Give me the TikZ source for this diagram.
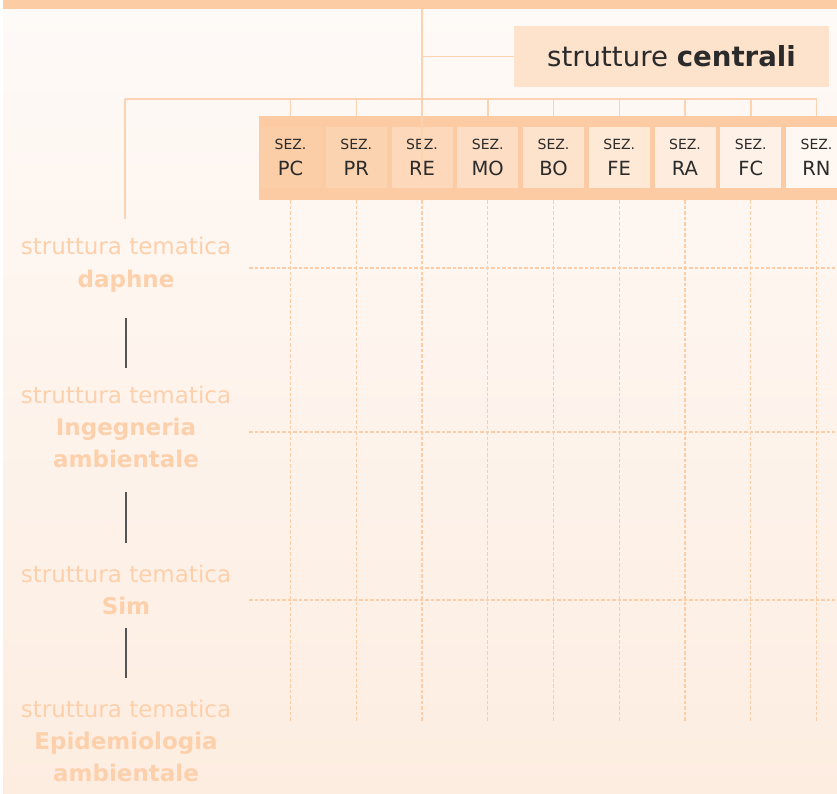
\documentclass[tikz,border=0pt]{standalone}
\usepackage{fontspec}
\setmainfont{DejaVu Sans}
\usepackage{xcolor}
\usepackage{tikz}
\usetikzlibrary{positioning, calc, backgrounds}

\definecolor{barpeach}{HTML}{FCCCA4}
\definecolor{bandpeach}{HTML}{FCCBA3}
\definecolor{boxpeach}{HTML}{FDE2CC}
\definecolor{linepeach}{HTML}{FCD3B0}
\definecolor{gridpeach}{HTML}{FCCDA7}
\definecolor{labelpeach}{HTML}{FDD0AC}
\definecolor{bgtop}{HTML}{FEFAF7}
\definecolor{bgbottom}{HTML}{FDEDE1}
\definecolor{darktext}{HTML}{2B2B2B}
\definecolor{stemgray}{HTML}{555555}

\tikzset{
    cell/.style={rectangle, fill=bandpeach!#1!white, minimum width=61pt, minimum height=61pt, inner sep=0pt, align=center, text=darktext, font=\fontsize{19.5}{26}\selectfont}
}

\begin{document}
\begin{tikzpicture}[
    x=1pt, y=-1pt,
    tema/.style={align=center, inner sep=0pt, text=labelpeach, font=\fontsize{23}{32.3}\selectfont},
    conn/.style={draw=linepeach, line width=1.5pt},
    grid/.style={draw=gridpeach, line width=1.3pt, dash pattern=on 3.5pt off 2pt},
    stem/.style={draw=stemgray, line width=1.3pt}
]
\useasboundingbox (0,0) rectangle (837,794);

\node[fill=barpeach, minimum width=834pt, minimum height=9pt, inner sep=0pt, anchor=north west] (topbar) at (3,0) {};
\node[fill=boxpeach, minimum width=315pt, minimum height=61pt, inner sep=0pt, text=darktext, font=\fontsize{27.6}{30}\selectfont] (centrali) at (671.5,56.5) {strutture \textbf{centrali}};

\node[fill=bandpeach, minimum width=578pt, minimum height=84pt, inner sep=0pt] (band) at (548,158) {};
\node[cell=95] (pc) at (290.5,157.5) {{\fontsize{14}{14}\selectfont SEZ.}\\PC};
\node[cell=85, right=4.35pt of pc] (pr) {{\fontsize{14}{14}\selectfont SEZ.}\\PR};
\node[cell=75, right=4.35pt of pr] (re) {{\fontsize{14}{14}\selectfont SEZ.}\\RE};
\node[cell=65, right=4.35pt of re] (mo) {{\fontsize{14}{14}\selectfont SEZ.}\\MO};
\node[cell=55, right=4.35pt of mo] (bo) {{\fontsize{14}{14}\selectfont SEZ.}\\BO};
\node[cell=45, right=4.35pt of bo] (fe) {{\fontsize{14}{14}\selectfont SEZ.}\\FE};
\node[cell=35, right=4.35pt of fe] (ra) {{\fontsize{14}{14}\selectfont SEZ.}\\RA};
\node[cell=25, right=4.35pt of ra] (fc) {{\fontsize{14}{14}\selectfont SEZ.}\\FC};
\node[cell=15, right=4.35pt of fc] (rn) {{\fontsize{14}{14}\selectfont SEZ.}\\RN};

% strutture tematiche
\node[tema] (daphne) at (126,264.6) {struttura tematica\\\textbf{daphne}};
\node[tema] (ingegneria) at (126,426.8) {struttura tematica\\\textbf{Ingegneria}\\\textbf{ambientale}};
\node[tema] (sim) at (126,590.1) {struttura tematica\\\textbf{Sim}};
\node[tema] (epidemiologia) at (126,741.1) {struttura tematica\\\textbf{Epidemiologia}\\\textbf{ambientale}};

\coordinate (bus) at (125,99);

\begin{scope}[on background layer]
\fill[top color=bgtop, bottom color=bgbottom] (3,0) rectangle (837,794);
\foreach \y in {268,432,600}
    \draw[grid] (249,\y) -- (835,\y);
\foreach \c in {pc,pr,re,mo,bo,fe,ra,fc,rn}
    \draw[grid] (\c |- band.south) -- (\c |- 0,722);
\draw[conn] (bus) -- (bus -| rn);
\foreach \c in {pc,pr,re,mo,bo,fe,ra,fc,rn}
    \draw[conn] (bus -| \c) -- (\c |- band.north);
\draw[conn, shorten >=18pt] (bus) -- (bus |- daphne.north);
\draw[conn] (centrali.west) -- (centrali.west -| re);
\end{scope}

\draw[conn, line width=1.2pt] (topbar.south -| re) -- ($(re.south)+(0,-8)$);

\draw[stem, shorten <=26pt, shorten >=17.5pt] (daphne.south) -- (ingegneria.north);
\draw[stem, shorten <=24pt, shorten >=22pt] (ingegneria.south) -- (sim.north);
\draw[stem, shorten <=13pt, shorten >=21.5pt] (sim.south) -- (epidemiologia.north);

\end{tikzpicture}
\end{document}
